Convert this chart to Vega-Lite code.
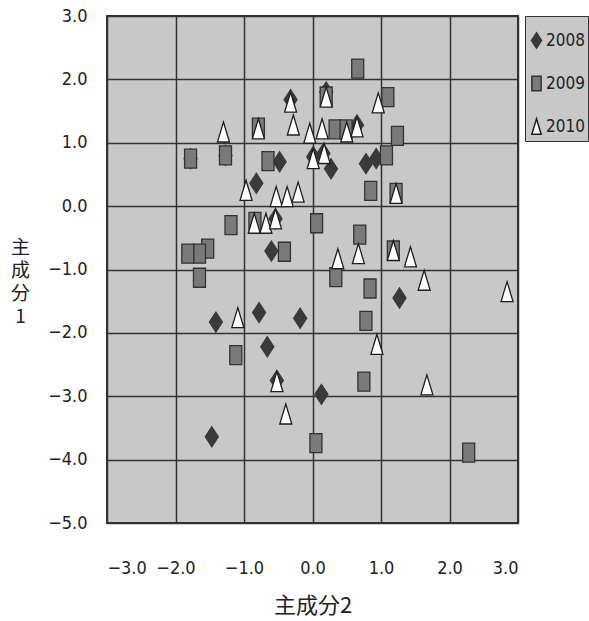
{
  "$schema": "https://vega.github.io/schema/vega-lite/v6.json",
  "autosize": "none",
  "padding": {"left": 107, "top": 16, "right": 71, "bottom": 98},
  "width": 411,
  "height": 507,
  "background": "#ffffff",
  "config": {
    "view": {"fill": "#c8c8c8", "stroke": "#333333", "strokeWidth": 2},
    "axis": {
      "grid": true, "gridColor": "#333333", "gridWidth": 1.5, "gridOpacity": 1,
      "domain": false, "ticks": false,
      "labelFont": "DejaVu Sans Condensed, Liberation Sans Narrow, Liberation Sans, sans-serif", "labelFontSize": 18, "labelColor": "#222222",
      "titleFont": "Noto Sans CJK JP, sans-serif", "titleColor": "#222222", "titleFontWeight": "normal"
    }
  },
  "data": {"values": [
    {"year": "2008", "pc2": -0.48, "pc1": 0.70},
    {"year": "2008", "pc2": -0.82, "pc1": 0.36},
    {"year": "2008", "pc2": -0.60, "pc1": -0.71},
    {"year": "2008", "pc2": -0.32, "pc1": 1.68},
    {"year": "2008", "pc2": 0.01, "pc1": 0.78},
    {"year": "2008", "pc2": 0.16, "pc1": 0.83},
    {"year": "2008", "pc2": 0.27, "pc1": 0.59},
    {"year": "2008", "pc2": 0.78, "pc1": 0.67},
    {"year": "2008", "pc2": 0.93, "pc1": 0.75},
    {"year": "2008", "pc2": 0.65, "pc1": 1.28},
    {"year": "2008", "pc2": 0.20, "pc1": 1.80},
    {"year": "2008", "pc2": -1.41, "pc1": -1.83},
    {"year": "2008", "pc2": -0.78, "pc1": -1.68},
    {"year": "2008", "pc2": -0.18, "pc1": -1.77},
    {"year": "2008", "pc2": -0.66, "pc1": -2.22},
    {"year": "2008", "pc2": -0.52, "pc1": -2.75},
    {"year": "2008", "pc2": -1.47, "pc1": -3.64},
    {"year": "2008", "pc2": 1.27, "pc1": -1.45},
    {"year": "2008", "pc2": 0.13, "pc1": -2.97},
    {"year": "2008", "pc2": -0.54, "pc1": -0.20},
    {"year": "2008", "pc2": -1.78, "pc1": 0.75},
    {"year": "2008", "pc2": -1.27, "pc1": 0.80},
    {"year": "2009", "pc2": -1.78, "pc1": 0.75},
    {"year": "2009", "pc2": -1.27, "pc1": 0.80},
    {"year": "2009", "pc2": -0.79, "pc1": 1.24},
    {"year": "2009", "pc2": -0.65, "pc1": 0.71},
    {"year": "2009", "pc2": -0.84, "pc1": -0.25},
    {"year": "2009", "pc2": -1.19, "pc1": -0.30},
    {"year": "2009", "pc2": -1.53, "pc1": -0.67},
    {"year": "2009", "pc2": -1.65, "pc1": -0.75},
    {"year": "2009", "pc2": -1.82, "pc1": -0.75},
    {"year": "2009", "pc2": -0.41, "pc1": -0.72},
    {"year": "2009", "pc2": -1.65, "pc1": -1.13},
    {"year": "2009", "pc2": -1.12, "pc1": -2.35},
    {"year": "2009", "pc2": 0.66, "pc1": 2.17},
    {"year": "2009", "pc2": 0.20, "pc1": 1.73},
    {"year": "2009", "pc2": 1.10, "pc1": 1.72},
    {"year": "2009", "pc2": 0.33, "pc1": 1.21},
    {"year": "2009", "pc2": 0.49, "pc1": 1.21},
    {"year": "2009", "pc2": 1.24, "pc1": 1.11},
    {"year": "2009", "pc2": 1.08, "pc1": 0.80},
    {"year": "2009", "pc2": 0.85, "pc1": 0.24},
    {"year": "2009", "pc2": 1.22, "pc1": 0.21},
    {"year": "2009", "pc2": 0.06, "pc1": -0.27},
    {"year": "2009", "pc2": 0.69, "pc1": -0.45},
    {"year": "2009", "pc2": 1.18, "pc1": -0.70},
    {"year": "2009", "pc2": 0.34, "pc1": -1.12},
    {"year": "2009", "pc2": 0.84, "pc1": -1.30},
    {"year": "2009", "pc2": 0.78, "pc1": -1.81},
    {"year": "2009", "pc2": 0.75, "pc1": -2.77},
    {"year": "2009", "pc2": 0.05, "pc1": -3.74},
    {"year": "2009", "pc2": 2.28, "pc1": -3.89},
    {"year": "2010", "pc2": -1.30, "pc1": 1.17},
    {"year": "2010", "pc2": -0.79, "pc1": 1.22},
    {"year": "2010", "pc2": -0.32, "pc1": 1.64},
    {"year": "2010", "pc2": -0.28, "pc1": 1.28},
    {"year": "2010", "pc2": -0.04, "pc1": 1.15},
    {"year": "2010", "pc2": 0.14, "pc1": 1.22},
    {"year": "2010", "pc2": -0.97, "pc1": 0.25},
    {"year": "2010", "pc2": -0.53, "pc1": 0.15},
    {"year": "2010", "pc2": -0.37, "pc1": 0.15},
    {"year": "2010", "pc2": -0.21, "pc1": 0.22},
    {"year": "2010", "pc2": -0.85, "pc1": -0.27},
    {"year": "2010", "pc2": -0.68, "pc1": -0.27},
    {"year": "2010", "pc2": -0.54, "pc1": -0.20},
    {"year": "2010", "pc2": 0.01, "pc1": 0.75},
    {"year": "2010", "pc2": 0.17, "pc1": 0.83},
    {"year": "2010", "pc2": 0.20, "pc1": 1.72},
    {"year": "2010", "pc2": 0.96, "pc1": 1.63},
    {"year": "2010", "pc2": 0.50, "pc1": 1.17},
    {"year": "2010", "pc2": 0.65, "pc1": 1.25},
    {"year": "2010", "pc2": 1.22, "pc1": 0.20},
    {"year": "2010", "pc2": 0.37, "pc1": -0.83},
    {"year": "2010", "pc2": 0.67, "pc1": -0.75},
    {"year": "2010", "pc2": 1.18, "pc1": -0.70},
    {"year": "2010", "pc2": 1.43, "pc1": -0.80},
    {"year": "2010", "pc2": 1.63, "pc1": -1.17},
    {"year": "2010", "pc2": 2.84, "pc1": -1.35},
    {"year": "2010", "pc2": 0.94, "pc1": -2.18},
    {"year": "2010", "pc2": 1.67, "pc1": -2.82},
    {"year": "2010", "pc2": -1.09, "pc1": -1.76},
    {"year": "2010", "pc2": -0.52, "pc1": -2.77},
    {"year": "2010", "pc2": -0.39, "pc1": -3.28}
  ]},
  "mark": {"type": "point", "filled": false, "size": 400, "strokeWidth": 1.3, "opacity": 1, "fillOpacity": 1},
  "encoding": {
    "x": {
      "field": "pc2", "type": "quantitative",
      "scale": {"domain": [-3, 3], "nice": false, "zero": false},
      "axis": {"values": [-3, -2, -1, 0, 1, 2, 3], "format": ".1f", "labelPadding": 36,
               "title": "主成分2", "titleFontSize": 22, "titlePadding": 18}
    },
    "y": {
      "field": "pc1", "type": "quantitative",
      "scale": {"domain": [-5, 3], "nice": false, "zero": false},
      "axis": {"values": [-5, -4, -3, -2, -1, 0, 1, 2, 3], "format": ".1f", "labelPadding": 20,
               "title": ["主", "成", "分", "1"], "titleAngle": 0, "titleFontSize": 19, "titleLineHeight": 23,
               "titleAlign": "center", "titleBaseline": "top", "titleX": -87, "titleY": 222}
    },
    "shape": {
      "field": "year", "type": "nominal",
      "scale": {"domain": ["2008", "2009", "2010"],
                "range": ["M0,-1L0.65,0L0,1L-0.65,0Z", "M-0.6,-0.95L0.6,-0.95L0.6,0.95L-0.6,0.95Z", "M0,-1L0.6,1L-0.6,1Z"]},
      "legend": {
        "orient": "none", "legendX": 418, "legendY": 0, "title": " ", "titleFontSize": 6, "titlePadding": 7,
        "fillColor": "#c8c8c8", "strokeColor": "#333333", "padding": 3,
        "labelFont": "DejaVu Sans Condensed, Liberation Sans Narrow, Liberation Sans, sans-serif", "labelFontSize": 17, "labelColor": "#222222",
        "symbolSize": 240, "rowPadding": 21, "labelOffset": 1
      }
    },
    "fill": {
      "field": "year", "type": "nominal",
      "scale": {"domain": ["2008", "2009", "2010"], "range": ["#3a3a3a", "#7a7a7a", "#ffffff"]}
    },
    "stroke": {
      "field": "year", "type": "nominal",
      "scale": {"domain": ["2008", "2009", "2010"], "range": ["#3a3a3a", "#333333", "#1e1e1e"]}
    }
  }
}
